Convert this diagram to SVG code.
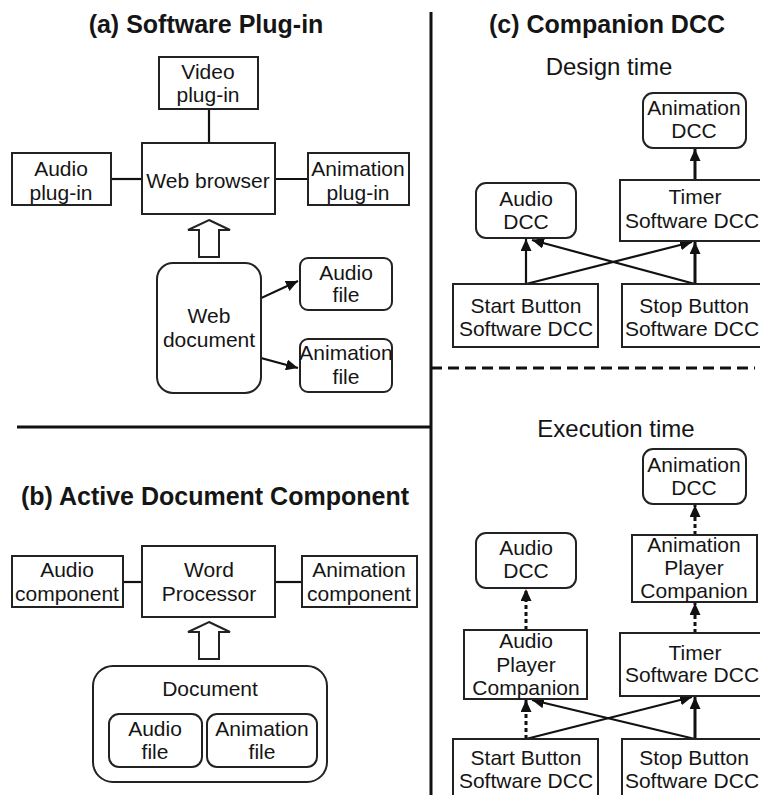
<svg xmlns="http://www.w3.org/2000/svg" width="760" height="795" viewBox="0 0 760 795">
<defs>
<style>
text{font-family:"Liberation Sans",Arial,sans-serif;fill:#151515;text-anchor:middle}
.t{font-size:25px;font-weight:bold}
.s{font-size:24px}
.n{font-size:21px}
.b{fill:#fff;stroke:#222;stroke-width:2}
.c{stroke:#111;stroke-width:2.2;fill:none}
.thick{stroke-width:3}
.dot{stroke-dasharray:4 3;stroke-width:3}
.sep{stroke:#111;stroke-width:3;fill:none}
</style>
<marker id="ah" markerUnits="userSpaceOnUse" markerWidth="12" markerHeight="11" refX="12" refY="5.5" orient="auto">
<path d="M0,0 L12,5.5 L0,11 z" fill="#111"/>
</marker>
</defs>
<rect width="760" height="795" fill="#fff"/>

<g id="separators">
<line class="sep" x1="431" y1="12" x2="431" y2="795"/>
<line class="sep" x1="17" y1="427" x2="431" y2="427"/>
<line class="sep" x1="431" y1="368" x2="755" y2="368" stroke-dasharray="11 6" stroke-width="2.2"/>
</g>

<g id="titles">
<text class="t" x="206" y="33">(a) Software Plug-in</text>
<text class="t" x="215" y="505">(b) Active Document Component</text>
<text class="t" x="607" y="33">(c) Companion DCC</text>
<text class="s" x="609" y="75">Design time</text>
<text class="s" x="616" y="437">Execution time</text>
</g>

<g id="connectors">
<!-- (a) -->
<line class="c" x1="209" y1="109" x2="209" y2="143"/>
<line class="c" x1="111" y1="179" x2="142" y2="179"/>
<line class="c" x1="275" y1="179" x2="308" y2="179"/>
<polygon class="b" points="209,220 230,230 219,230 219,257 199,257 199,230 188,230"/>
<line class="c" x1="244" y1="306" x2="298" y2="281" marker-end="url(#ah)"/>
<line class="c" x1="246" y1="354" x2="298" y2="368" marker-end="url(#ah)"/>
<!-- (b) -->
<line class="c" x1="123" y1="582" x2="142" y2="582"/>
<line class="c" x1="275" y1="582" x2="302" y2="582"/>
<polygon class="b" points="209,622 230,632 219,632 219,659 199,659 199,632 188,632"/>
<!-- (c) design -->
<line class="c" x1="526" y1="284" x2="526" y2="239" marker-end="url(#ah)"/>
<line class="c" x1="526" y1="284" x2="692" y2="242" marker-end="url(#ah)"/>
<line class="c" x1="695" y1="284" x2="532" y2="240" marker-end="url(#ah)"/>
<line class="c thick" x1="695" y1="284" x2="695" y2="242" marker-end="url(#ah)"/>
<line class="c thick" x1="695" y1="180" x2="695" y2="149" marker-end="url(#ah)"/>
<!-- (c) execution -->
<line class="c dot" x1="695" y1="535" x2="695" y2="505" marker-end="url(#ah)"/>
<line class="c dot" x1="695" y1="633" x2="695" y2="603" marker-end="url(#ah)"/>
<line class="c dot" x1="526" y1="630" x2="526" y2="589" marker-end="url(#ah)"/>
<line class="c dot" x1="526" y1="739" x2="526" y2="700" marker-end="url(#ah)"/>
<line class="c" x1="526" y1="739" x2="692" y2="697" marker-end="url(#ah)"/>
<line class="c" x1="695" y1="739" x2="532" y2="700" marker-end="url(#ah)"/>
<line class="c thick" x1="695" y1="739" x2="695" y2="697" marker-end="url(#ah)"/>
</g>

<g id="a-video"><rect class="b" x="159" y="57" width="99" height="52"/><text class="n" x="208" y="79">Video</text><text class="n" x="208" y="102">plug-in</text></g>
<g id="a-browser"><rect class="b" x="142" y="143" width="133" height="71"/><text class="n" x="208" y="188">Web browser</text></g>
<g id="a-audio"><rect class="b" x="12" y="153" width="99" height="52"/><text class="n" x="61" y="176">Audio</text><text class="n" x="61" y="200">plug-in</text></g>
<g id="a-anim"><rect class="b" x="308" y="153" width="101" height="52"/><text class="n" x="358" y="176">Animation</text><text class="n" x="358" y="200">plug-in</text></g>
<g id="a-webdoc"><rect class="b" x="157" y="263" width="104" height="130" rx="16"/><text class="n" x="209" y="323">Web</text><text class="n" x="209" y="347">document</text></g>
<g id="a-audiofile"><rect class="b" x="300" y="258" width="92" height="52" rx="8"/><text class="n" x="346" y="280">Audio</text><text class="n" x="346" y="302">file</text></g>
<g id="a-animfile"><rect class="b" x="300" y="339" width="92" height="53" rx="8"/><text class="n" x="346" y="360">Animation</text><text class="n" x="346" y="384">file</text></g>

<g id="b-word"><rect class="b" x="142" y="546" width="133" height="71"/><text class="n" x="209" y="577">Word</text><text class="n" x="209" y="601">Processor</text></g>
<g id="b-audio"><rect class="b" x="12" y="556" width="111" height="51"/><text class="n" x="67" y="577">Audio</text><text class="n" x="67" y="601">component</text></g>
<g id="b-anim"><rect class="b" x="302" y="556" width="115" height="51"/><text class="n" x="359" y="577">Animation</text><text class="n" x="359" y="601">component</text></g>
<g id="b-document"><rect class="b" x="93" y="666" width="234" height="116" rx="20"/><text class="n" x="210" y="696">Document</text></g>
<g id="b-audiofile"><rect class="b" x="109" y="714" width="93" height="53" rx="10"/><text class="n" x="155" y="736">Audio</text><text class="n" x="155" y="759">file</text></g>
<g id="b-animfile"><rect class="b" x="207" y="714" width="110" height="53" rx="10"/><text class="n" x="262" y="736">Animation</text><text class="n" x="262" y="759">file</text></g>

<g id="d-animdcc"><rect class="b" x="643" y="93" width="103" height="55" rx="10"/><text class="n" x="694" y="115">Animation</text><text class="n" x="694" y="138">DCC</text></g>
<g id="d-timer"><rect class="b" x="620" y="180" width="154" height="61"/><text class="n" x="695" y="204">Timer</text><text class="n" x="692" y="228">Software DCC</text></g>
<g id="d-audiodcc"><rect class="b" x="476" y="183" width="100" height="55" rx="10"/><text class="n" x="526" y="206">Audio</text><text class="n" x="526" y="229">DCC</text></g>
<g id="d-start"><rect class="b" x="453" y="284" width="145" height="63"/><text class="n" x="526" y="313">Start Button</text><text class="n" x="526" y="336">Software DCC</text></g>
<g id="d-stop"><rect class="b" x="622" y="284" width="150" height="63"/><text class="n" x="694" y="313">Stop Button</text><text class="n" x="692" y="336">Software DCC</text></g>

<g id="e-animdcc"><rect class="b" x="643" y="449" width="103" height="55" rx="10"/><text class="n" x="694" y="472">Animation</text><text class="n" x="694" y="495">DCC</text></g>
<g id="e-animplayer"><rect class="b" x="632" y="535" width="125" height="67"/><text class="n" x="694" y="552">Animation</text><text class="n" x="694" y="575">Player</text><text class="n" x="694" y="598">Companion</text></g>
<g id="e-audiodcc"><rect class="b" x="476" y="533" width="100" height="55" rx="10"/><text class="n" x="526" y="555">Audio</text><text class="n" x="526" y="578">DCC</text></g>
<g id="e-audioplayer"><rect class="b" x="464" y="630" width="123" height="69"/><text class="n" x="526" y="648">Audio</text><text class="n" x="526" y="672">Player</text><text class="n" x="526" y="695">Companion</text></g>
<g id="e-timer"><rect class="b" x="620" y="633" width="154" height="63"/><text class="n" x="695" y="660">Timer</text><text class="n" x="692" y="682">Software DCC</text></g>
<g id="e-start"><rect class="b" x="453" y="739" width="145" height="70"/><text class="n" x="526" y="765">Start Button</text><text class="n" x="526" y="788">Software DCC</text></g>
<g id="e-stop"><rect class="b" x="622" y="739" width="150" height="70"/><text class="n" x="694" y="765">Stop Button</text><text class="n" x="692" y="788">Software DCC</text></g>
</svg>
